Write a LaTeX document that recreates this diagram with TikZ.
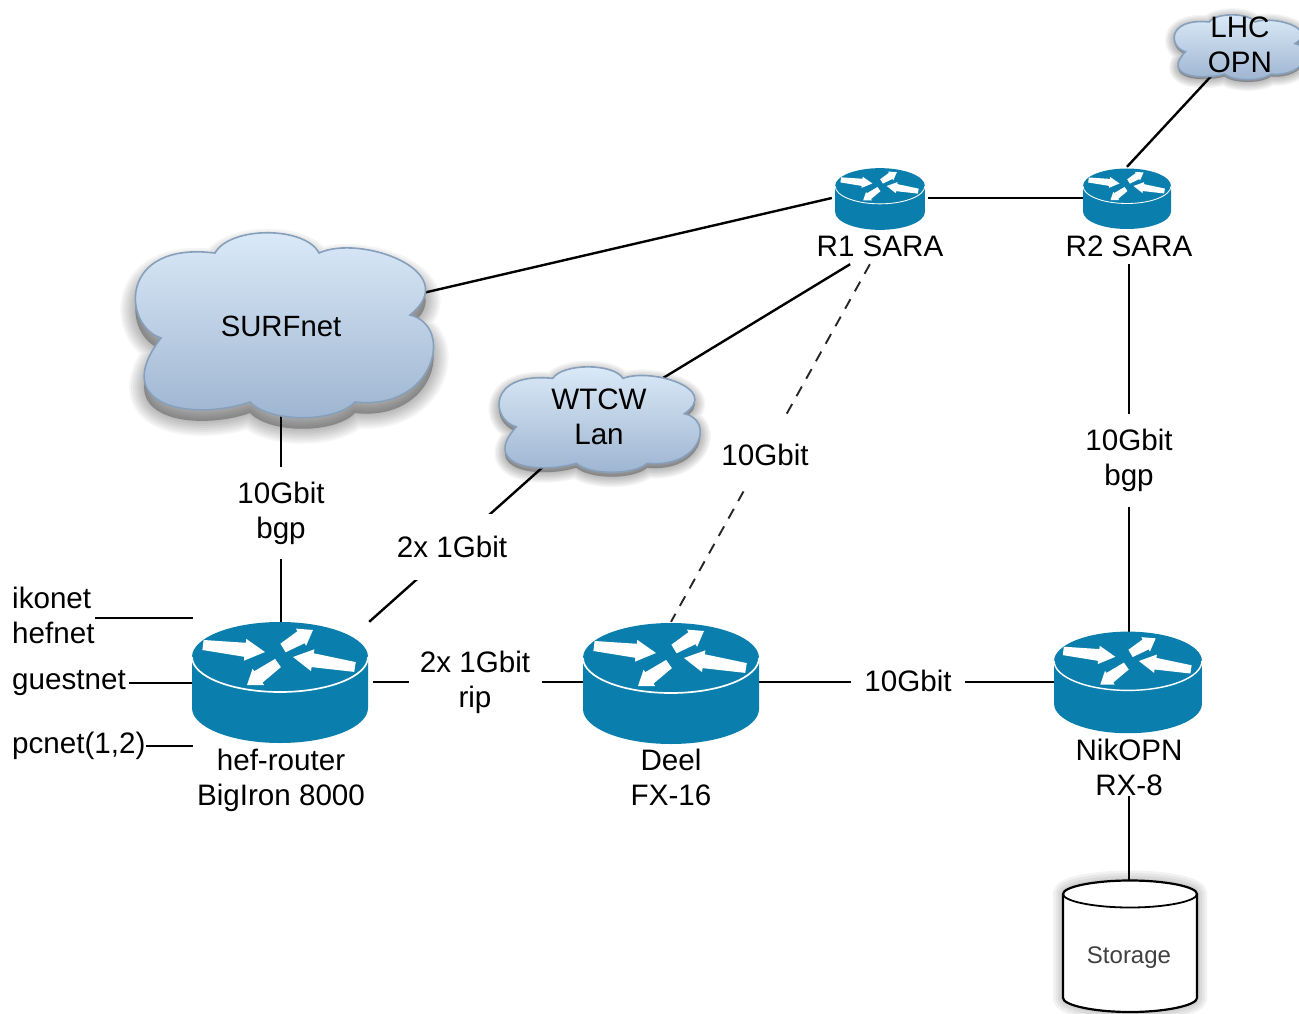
\documentclass[tikz,border=0pt]{standalone}
\usepackage{fontspec}
\setmainfont{Liberation Sans}
\pgfdeclarelayer{background}
\pgfsetlayers{background,main}
\definecolor{routerblue}{HTML}{0A7FAE}
\definecolor{cloudtop}{HTML}{DCEBF9}
\definecolor{cloudbot}{HTML}{9DB4D0}
\definecolor{cloudedge}{HTML}{86A0BC}
\tikzset{
  txt/.style={font=\fontsize{29.6}{35}\selectfont,align=center,inner sep=0pt},
  linelabel/.style={txt,fill=white},
  box/.style={inner sep=0pt,draw=none},
  link/.style={black,line width=2.4pt},
  dashlink/.style={black!85,line width=1.9pt,dash pattern=on 11pt off 9pt},
}
% cloud outline, in pixels round its centre
\newcommand{\cloudpath}{(-70,-73)
 .. controls (-55,-100) and (20,-100) .. (34,-73)
 .. controls (75,-92) and (180,-55) .. (125,-11)
 .. controls (170,0) and (150,85) .. (70,76)
 .. controls (50,97) and (-15,97) .. (-35,76)
 .. controls (-90,95) and (-178,82) .. (-124,12)
 .. controls (-162,0) and (-168,-85) .. (-70,-73) -- cycle}
% #1 cx, #2 cy, #3 xscale, #4 yscale, #5 shadow size
\newcommand{\cloudart}[5]{%
 \begin{scope}[shift={(#1,#2)},xscale=#3,yscale=#4]
  \foreach \w in {30,26,22,18,14,10,6,2}{
   \path[fill=black,draw=black,opacity=.04,line width=\w*#5 pt,line join=round,yshift=-11*#5 pt] \cloudpath;}
  \path[draw=cloudedge,line width=1.6pt,top color=cloudtop,bottom color=cloudbot,shading angle=0] \cloudpath;
 \end{scope}}
% #1 cx, #2 cy (centre of the top ellipse), #3 scale
\newcommand{\routerart}[3]{%
 \begin{scope}[shift={(#1,#2)},scale=#3]
  \fill[routerblue] (-88,0) .. controls (-88,-19.3) and (-48.6,-35) .. (0,-35)
    .. controls (48.6,-35) and (88,-19.3) .. (88,0) -- (88,51)
    .. controls (88,70.3) and (48.6,86) .. (0,86)
    .. controls (-48.6,86) and (-88,70.3) .. (-88,51) -- cycle;
  \draw[white,line width=#3*1.7pt] (-88,0) .. controls (-88,19.3) and (-48.6,35) .. (0,35)
    .. controls (48.6,35) and (88,19.3) .. (88,0);
  \fill[white] (-76.4,-17) -- (-34.1,-14.2) -- (-33.7,-18.1) -- (-15,-5) -- (-36.1,3.7) -- (-35.7,-.2) -- (-77.6,-7) -- cycle;
  \fill[white] (.4,-13.3) -- (17.4,-25.8) -- (15.9,-28.4) -- (33,-27) -- (26.1,-11.2) -- (24.6,-13.8) -- (5.6,-4.7) -- cycle;
  \fill[white] (75.8,5.1) -- (33.8,-3.7) -- (34.4,-7.7) -- (13,0) -- (31,14.1) -- (31.6,10.1) -- (74.2,14.9) -- cycle;
  \fill[white] (-4.9,1.9) -- (-25.7,14.2) -- (-27.4,11.7) -- (-33,28) -- (-15.8,28.1) -- (-17.5,25.6) -- (.9,10.1) -- cycle;
 \end{scope}}
\begin{document}
\begin{tikzpicture}[x=1pt,y=-1pt]
\useasboundingbox (0,0) rectangle (1299,1014);
\clip (0,0) rectangle (1299,1014);
% clouds
\cloudart{285}{326}{1}{1}{1}
\cloudart{600}{420}{.675}{.57}{.7}
\cloudart{1240}{47.5}{.44}{.35}{.6}
\node[txt,font=\fontsize{29.3}{35}\selectfont] (surf) at (281,326) {SURFnet};
\node[txt] (wtcw) at (599,417) {WTCW\\Lan};
\node[txt] (lhc) at (1240,45) {LHC\\OPN};
% routers
\routerart{280}{657}{1}
\routerart{671}{658}{1}
\routerart{1128}{661}{.84}
\routerart{880}{186}{.51}
\routerart{1127}{186}{.5}
\node[box,minimum width=176pt,minimum height=120pt] (hef) at (281,682) {};
\node[box,minimum width=176pt,minimum height=120pt] (deel) at (671,682) {};
\node[box,minimum width=148pt,minimum height=100pt] (nik) at (1129,682) {};
\node[box,minimum width=96pt,minimum height=62pt] (r1) at (880,198) {};
\node[box,minimum width=88pt,minimum height=62pt] (r2) at (1127,198) {};
\node[txt] (heflab) at (281,780) {hef-router\\BigIron 8000};
\node[txt] (deellab) at (671,777) {Deel\\FX-16};
\node[txt] (niklab) at (1129,767) {NikOPN\\RX-8};
\node[txt,minimum height=36pt] (r1lab) at (880,246) {R1 SARA};
\node[txt,minimum height=36pt] (r2lab) at (1129,246) {R2 SARA};
% storage
\begin{scope}[shift={(1130,894)}]
 \foreach \w in {20,15,10,5}{
  \path[fill=black,draw=black,opacity=.05,line width=\w pt] (-67,0) -- (-67,104) .. controls (-67,111) and (-37,118) .. (0,118) .. controls (37,118) and (67,111) .. (67,104) -- (67,0) .. controls (67,-7) and (37,-13.5) .. (0,-13.5) .. controls (-37,-13.5) and (-67,-7) .. (-67,0) -- cycle;}
 \draw[fill=white,line width=2.2pt] (-67,0) -- (-67,104) .. controls (-67,111) and (-37,118) .. (0,118) .. controls (37,118) and (67,111) .. (67,104) -- (67,0) .. controls (67,-7) and (37,-13.5) .. (0,-13.5) .. controls (-37,-13.5) and (-67,-7) .. (-67,0) -- cycle;
 \draw[line width=1.8pt] (-67,0) .. controls (-67,7) and (-37,13.5) .. (0,13.5) .. controls (37,13.5) and (67,7) .. (67,0);
\end{scope}
\node[box,minimum width=134pt,minimum height=132pt,font=\fontsize{24}{28}\selectfont,text=black!75,yshift=-12pt] (storage) at (1129,946) {Storage};
% side labels
\node[txt,align=left,anchor=west] (nets) at (12,615) {ikonet\\hefnet};
\node[txt,anchor=west] (guest) at (12,683) {guestnet};
\node[txt,anchor=west] (pcnet) at (12,746) {pcnet(1,2)};
% connector labels
\node[linelabel,minimum width=110pt,minimum height=92pt] (l1) at (281,513) {10Gbit\\bgp};
\node[linelabel,minimum width=110pt,minimum height=93pt] (l2) at (1129,460) {10Gbit\\bgp};
\node[linelabel,minimum width=120pt,minimum height=66pt] (l3) at (452,547) {2x 1Gbit};
\node[linelabel,minimum width=133pt,minimum height=80pt] (l4) at (475,682) {2x 1Gbit\\rip};
\node[linelabel,minimum width=114pt,minimum height=40pt] (l5) at (908,681) {10Gbit};
\node[linelabel,minimum width=100pt,minimum height=70pt] (l6) at (765,455) {10Gbit};
% connectors
\begin{pgfonlayer}{background}
 \draw[link] (surf) -- (hef.north);
 \draw[link] (surf) -- (r1.west);
 \draw[link] (r1) -- (r2);
 \draw[link] (lhc) -- (r2.north);
 \draw[link] (r1lab) -- (wtcw);
 \draw[dashlink] (r1lab) -- (deel.north);
 \draw[link] (r2lab) -- (nik.north);
 \draw[link] (wtcw) -- (hef.north east);
 \draw[link,shorten <=4pt] (hef) -- (deel);
 \draw[link] (deel) -- (nik);
 \draw[link] (niklab) -- (storage.north);
 \draw[link] ([yshift=-3pt]nets.east) -- ([yshift=-3pt]nets.east -| hef.west);
 \draw[link,shorten <=3pt] (guest.east) -- (guest.east -| hef.west);
 \draw[link] (pcnet.east) -- (pcnet.east -| hef.west);
\end{pgfonlayer}
\end{tikzpicture}
\end{document}
